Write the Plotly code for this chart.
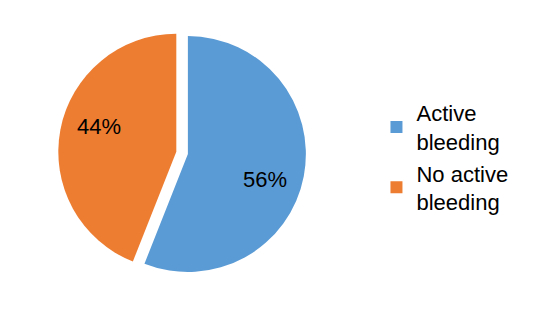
import math
import plotly.graph_objects as go

labels = ["Active<br>bleeding", "No active<br>bleeding"]
values = [56, 44]
colors = ["#5B9BD5", "#ED7D31"]

FONT = "Liberation Sans, Arial, sans-serif"
dom_x = [0.109, 0.573]
dom_y = [0.121, 0.908]
W, H = 534, 315
pull = 0.05

fig = go.Figure(go.Pie(
    labels=labels,
    values=values,
    sort=False,
    direction="clockwise",
    rotation=0,
    pull=[pull, pull],
    marker=dict(colors=colors, line=dict(width=0)),
    textinfo="none",
    domain=dict(x=dom_x, y=dom_y),
    hoverinfo="label+percent",
))

# percent labels placed along each slice's mid-angle, derived from the values
total = sum(values)
cx = (dom_x[0] + dom_x[1]) / 2 * W
cy = (dom_y[0] + dom_y[1]) / 2 * H
half = min((dom_x[1] - dom_x[0]) * W, (dom_y[1] - dom_y[0]) * H) / 2
r = half / (1 + pull)
start = 0.0
for v in values:
    frac = v / total
    mid = (start + frac / 2) * 2 * math.pi
    start += frac
    rr = r * (0.69 + pull)
    ang = mid + math.radians(7)
    px = cx + rr * math.sin(ang)
    py = cy + rr * math.cos(ang)
    fig.add_annotation(
        x=px / W, y=py / H,
        xref="paper", yref="paper",
        xanchor="center", yanchor="middle",
        text=f"{round(frac * 100)}%",
        showarrow=False,
        font=dict(family=FONT, size=22, color="#000000"),
    )

fig.update_layout(
    width=W, height=H,
    margin=dict(l=0, r=0, t=0, b=0),
    paper_bgcolor="white",
    plot_bgcolor="white",
    showlegend=True,
    legend=dict(
        x=0.705, y=0.50, xanchor="left", yanchor="middle",
        font=dict(family=FONT, size=22, color="#000000"),
        itemwidth=30,
        tracegroupgap=8,
    ),
)

fig.write_html("out.html")
